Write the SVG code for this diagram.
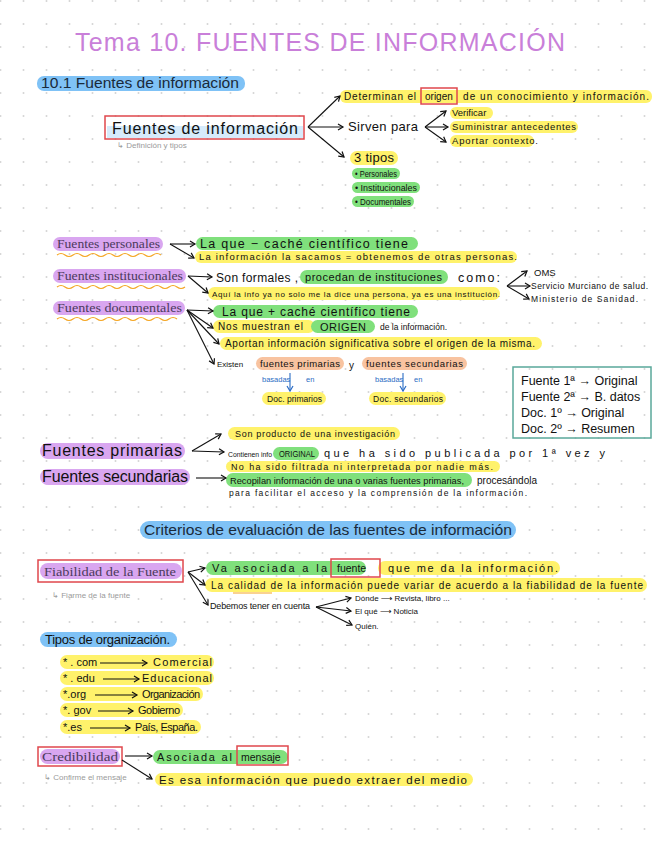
<svg xmlns="http://www.w3.org/2000/svg" width="656" height="848" viewBox="0 0 656 848">
<defs>
<pattern id="grid" x="-11" y="-11" width="23" height="23" patternUnits="userSpaceOnUse"><circle cx="11.5" cy="12" r="1" fill="#d4d4d4"/></pattern>
<marker id="ah" markerWidth="8" markerHeight="8" refX="6" refY="4" orient="auto" markerUnits="userSpaceOnUse"><path d="M1,1 L6,4 L1,7" fill="none" stroke="#111" stroke-width="1.2"/></marker>
<marker id="ahb" markerWidth="8" markerHeight="8" refX="6" refY="4" orient="auto" markerUnits="userSpaceOnUse"><path d="M1,1 L6,4 L1,7" fill="none" stroke="#2b6cc4" stroke-width="1.2"/></marker>
<style>
.hw{font-family:"Liberation Sans","DejaVu Sans",sans-serif;fill:#111}
.sf{font-family:"Liberation Serif","DejaVu Serif",serif;fill:#4b3a5c}
.gr{font-family:"Liberation Sans",sans-serif;fill:#9a9a9a;font-size:8px}
.bl{font-family:"Liberation Sans",sans-serif;fill:#2b6cc4;font-size:7.5px}
.y{fill:#fff26b}.g{fill:#80e07c}.p{fill:#d9a6f0}.b{fill:#7fc2f6}.o{fill:#f8c3a0}
.rb{fill:none;stroke:#e0474c;stroke-width:1.5}
.wave{fill:none;stroke:#f5a623;stroke-width:1.2}
.c line{stroke:#111;stroke-width:1.1;fill:none}
.c line.blue{stroke:#2b6cc4}
</style>
</defs>
<rect width="656" height="848" fill="#fff"/>
<rect width="656" height="848" fill="url(#grid)"/>

<text x="75" y="51" font-family="Liberation Sans,sans-serif" font-size="25" fill="#c97fd9" textLength="490" lengthAdjust="spacing">Tema 10. FUENTES DE INFORMACIÓN</text>

<g id="h1"><rect class="b" x="37" y="76" width="208" height="15" rx="7"/><text x="41" y="88" font-family="Liberation Sans,sans-serif" font-size="14" fill="#1a2a3a" textLength="198" lengthAdjust="spacingAndGlyphs">10.1 Fuentes de información</text></g>

<g id="fuentes-info">
<rect x="107" y="126" width="196" height="12" fill="#d6ebfb"/>
<rect class="rb" x="105" y="116" width="199" height="23"/>
<text class="hw" x="112" y="134" font-size="16" textLength="186" lengthAdjust="spacing">Fuentes de información</text>
<text class="gr" x="117" y="148">↳ Definición y tipos</text>
</g>

<g id="determinan">
<rect class="y" x="340" y="90" width="312" height="13" rx="6"/>
<text class="hw" x="344" y="100" font-size="10" textLength="72" lengthAdjust="spacing">Determinan el</text>
<rect class="rb" x="421" y="88" width="36" height="16"/>
<text class="hw" x="425" y="100" font-size="10">origen</text>
<text class="hw" x="463" y="100" font-size="10" textLength="186" lengthAdjust="spacing">de un conocimiento y información.</text>
</g>
<g id="sirven"><text class="hw" x="348" y="131" font-size="13" textLength="70" lengthAdjust="spacing">Sirven para</text></g>
<g id="verificar"><rect class="y" x="450" y="107" width="43" height="12" rx="6"/><text class="hw" x="452" y="116" font-size="9.5">Verificar</text></g>
<g id="suministrar"><rect class="y" x="450" y="121" width="128" height="12" rx="6"/><text class="hw" x="452" y="130" font-size="9.5" textLength="124" lengthAdjust="spacing">Suministrar antecedentes</text></g>
<g id="aportar"><rect class="y" x="450" y="135" width="84" height="12" rx="6"/><text class="hw" x="452" y="144" font-size="9.5" textLength="86" lengthAdjust="spacing">Aportar contexto.</text></g>
<g id="tipos3"><rect class="y" x="350" y="151" width="48" height="14" rx="7"/><text class="hw" x="354" y="162" font-size="13" textLength="40" lengthAdjust="spacing">3 tipos</text></g>
<g id="personales"><rect class="g" x="352" y="168" width="48" height="11" rx="5.5"/><text class="hw" x="355" y="177" font-size="9" textLength="42" lengthAdjust="spacingAndGlyphs">• Personales</text></g>
<g id="institucionales"><rect class="g" x="352" y="182" width="68" height="11" rx="5.5"/><text class="hw" x="355" y="191" font-size="9" textLength="62" lengthAdjust="spacingAndGlyphs">• Institucionales</text></g>
<g id="documentales"><rect class="g" x="352" y="196" width="62" height="11" rx="5.5"/><text class="hw" x="355" y="205" font-size="9" textLength="56" lengthAdjust="spacingAndGlyphs">• Documentales</text></g>

<g id="f-personales"><rect class="p" x="53" y="237" width="110" height="14" rx="7"/><text class="sf" x="57" y="248" font-size="12.5" textLength="103" lengthAdjust="spacingAndGlyphs">Fuentes personales</text>
<path class="wave" d="M57,255 q4,-3 8,0 t8,0 t8,0 t8,0 t8,0 t8,0 t8,0 t8,0 t8,0 t8,0 t8,0 t8,0 t8,0"/></g>
<g id="f-inst"><rect class="p" x="53" y="269" width="133" height="14" rx="7"/><text class="sf" x="57" y="280" font-size="12.5" textLength="126" lengthAdjust="spacingAndGlyphs">Fuentes institucionales</text>
<path class="wave" d="M57,287 q4,-3 8,0 t8,0 t8,0 t8,0 t8,0 t8,0 t8,0 t8,0 t8,0 t8,0 t8,0 t8,0 t8,0 t8,0 t8,0 t8,0"/></g>
<g id="f-doc"><rect class="p" x="53" y="301" width="132" height="14" rx="7"/><text class="sf" x="57" y="312" font-size="12.5" textLength="125" lengthAdjust="spacingAndGlyphs">Fuentes documentales</text>
<path class="wave" d="M57,319 q4,-3 8,0 t8,0 t8,0 t8,0 t8,0 t8,0 t8,0 t8,0 t8,0 t8,0 t8,0 t8,0 t8,0 t8,0 t8,0"/></g>

<g id="p1"><rect class="g" x="196" y="237" width="222" height="13" rx="6.5"/><text class="hw" x="200" y="247.5" font-size="12.5" textLength="208" lengthAdjust="spacing">La que − caché científico tiene</text></g>
<g id="p2"><rect class="y" x="195" y="251" width="322" height="12" rx="6"/><text class="hw" x="199" y="260" font-size="9.5" textLength="318" lengthAdjust="spacing">La información la sacamos = obtenemos de otras personas.</text></g>
<g id="i1"><rect class="g" x="300" y="270" width="148" height="14" rx="7"/>
<text class="hw" x="216" y="282" font-size="12" textLength="82" lengthAdjust="spacing">Son formales ,</text>
<text class="hw" x="305" y="281" font-size="11" textLength="137" lengthAdjust="spacing">procedan de instituciones</text>
<text class="hw" x="458" y="282" font-size="12.5" textLength="42" lengthAdjust="spacing">como:</text></g>
<g id="i2"><rect class="y" x="208" y="287" width="292" height="13" rx="6.5"/><text class="hw" x="212" y="297" font-size="8" textLength="288" lengthAdjust="spacing">Aquí la info ya no solo me la dice una persona, ya es una institución.</text></g>
<g id="oms"><text class="hw" x="534" y="276" font-size="9.5">OMS</text>
<text class="hw" x="531" y="289" font-size="8.5" textLength="117" lengthAdjust="spacing">Servicio Murciano de salud.</text>
<text class="hw" x="531" y="302" font-size="8.5" textLength="107" lengthAdjust="spacing">Ministerio de Sanidad.</text></g>
<g id="d1"><rect class="g" x="213" y="305" width="205" height="13" rx="6.5"/><text class="hw" x="222" y="315.5" font-size="12" textLength="188" lengthAdjust="spacing">La que + caché científico tiene</text></g>
<g id="d2"><rect class="y" x="213" y="320" width="102" height="13" rx="6.5"/><rect class="g" x="311" y="320" width="64" height="13" rx="6.5"/>
<text class="hw" x="218" y="330" font-size="10" textLength="85" lengthAdjust="spacing">Nos muestran el</text>
<text class="hw" x="320" y="330.5" font-size="11" textLength="46" lengthAdjust="spacing">ORIGEN</text>
<text class="hw" x="380" y="330" font-size="9" textLength="67" lengthAdjust="spacingAndGlyphs">de la información.</text></g>
<g id="d3"><rect class="y" x="220" y="337" width="322" height="13" rx="6.5"/><text class="hw" x="225" y="347" font-size="10" textLength="310" lengthAdjust="spacing">Aportan información significativa sobre el origen de la misma.</text></g>
<g id="d4"><text class="hw" x="217" y="367" font-size="8">Existen</text>
<rect class="o" x="256" y="357" width="88" height="13" rx="6.5"/><text class="hw" x="260" y="367" font-size="9.5" textLength="80" lengthAdjust="spacing">fuentes primarias</text>
<text class="hw" x="349" y="369" font-size="10">y</text>
<rect class="o" x="362" y="357" width="105" height="13" rx="6.5"/><text class="hw" x="366" y="367" font-size="9.5" textLength="97" lengthAdjust="spacing">fuentes secundarias</text></g>
<g id="basadas1"><text class="bl" x="262" y="382">basadas</text><text class="bl" x="306" y="382">en</text></g>
<g id="basadas2"><text class="bl" x="375" y="382">basadas</text><text class="bl" x="414" y="382">en</text></g>
<g id="docprim"><rect class="y" x="262" y="392" width="64" height="13" rx="6.5"/><text class="hw" x="267" y="402" font-size="8.5" textLength="55" lengthAdjust="spacing">Doc. primarios</text></g>
<g id="docsec"><rect class="y" x="369" y="392" width="77" height="13" rx="6.5"/><text class="hw" x="373" y="402" font-size="8.5" textLength="70" lengthAdjust="spacing">Doc. secundarios</text></g>

<g id="resumen-box"><rect x="513" y="367" width="138" height="71" fill="none" stroke="#5aa89a" stroke-width="1.5"/>
<text class="hw" x="521" y="385" font-size="12.5">Fuente 1ª → Original</text>
<text class="hw" x="521" y="401" font-size="12.5">Fuente 2ª → B. datos</text>
<text class="hw" x="521" y="417" font-size="12.5">Doc. 1º  → Original</text>
<text class="hw" x="521" y="433" font-size="12.5">Doc. 2º  → Resumen</text></g>

<g id="f-prim"><rect class="p" x="40" y="443" width="145" height="16" rx="8"/><text class="hw" x="42" y="456" font-size="16" textLength="140" lengthAdjust="spacing">Fuentes primarias</text></g>
<g id="f-sec"><rect class="p" x="40" y="469" width="150" height="16" rx="8"/><text class="hw" x="42" y="482" font-size="16" textLength="146" lengthAdjust="spacing">Fuentes secundarias</text></g>
<g id="fp1"><rect class="y" x="228" y="427" width="172" height="13" rx="6.5"/><text class="hw" x="235" y="437" font-size="9" textLength="160" lengthAdjust="spacing">Son producto de una investigación</text></g>
<g id="fp2"><rect class="g" x="273" y="447" width="46" height="13" rx="6.5"/>
<text class="hw" x="228" y="457" font-size="7.5" textLength="44" lengthAdjust="spacingAndGlyphs">Contienen info</text>
<text class="hw" x="279" y="457" font-size="8.5" textLength="36" lengthAdjust="spacingAndGlyphs">ORIGINAL</text>
<text class="hw" x="324" y="457" font-size="11" textLength="281" lengthAdjust="spacing">que ha sido publicada por 1ª vez y</text>
<rect class="y" x="226" y="461" width="274" height="11" rx="5.5"/>
<text class="hw" x="231" y="470" font-size="9" textLength="262" lengthAdjust="spacing">No ha sido filtrada ni interpretada por nadie más.</text></g>
<g id="fs1"><rect class="g" x="226" y="473" width="246" height="14" rx="7"/>
<text class="hw" x="230" y="484" font-size="9.5" textLength="234" lengthAdjust="spacingAndGlyphs">Recopilan información de una o varias fuentes primarias,</text>
<text class="hw" x="477" y="484" font-size="10" textLength="60" lengthAdjust="spacing">procesándola</text>
<text class="hw" x="229" y="496" font-size="8.5" textLength="298" lengthAdjust="spacing">para facilitar el acceso y la comprensión de la información.</text></g>

<g id="h2"><rect class="b" x="140" y="521" width="376" height="18" rx="9"/><text x="144" y="535" font-family="Liberation Sans,sans-serif" font-size="15" fill="#1a2a3a" textLength="368" lengthAdjust="spacingAndGlyphs">Criterios de evaluación de las fuentes de información</text></g>

<g id="fiabilidad"><rect class="p" x="40" y="563" width="142" height="16" rx="8"/><rect class="rb" x="38" y="560" width="145" height="22"/>
<text class="sf" x="44" y="576" font-size="13" textLength="132" lengthAdjust="spacingAndGlyphs">Fiabilidad de la Fuente</text>
<text class="gr" x="52" y="598" font-size="8.5">↳ Fiarme de la fuente</text></g>
<g id="fb1"><rect class="g" x="206" y="561" width="160" height="14" rx="7"/><rect class="y" x="378" y="561" width="182" height="14" rx="7"/>
<text class="hw" x="212" y="572" font-size="11" textLength="115" lengthAdjust="spacing">Va asociada a la</text>
<rect class="rb" x="331" y="559" width="49" height="18"/>
<text class="hw" x="337" y="572" font-size="10.5">fuente</text>
<text class="hw" x="388" y="572" font-size="11" textLength="170" lengthAdjust="spacing">que me da la información.</text></g>
<g id="fb2"><rect class="y" x="205" y="578" width="442" height="14" rx="7"/>
<text class="hw" x="211" y="589" font-size="10" textLength="432" lengthAdjust="spacing">La calidad de la información puede variar de acuerdo a la fiabilidad de la fuente</text>
<line x1="233" y1="593" x2="272" y2="593" stroke="#f5a623" stroke-width="1.2"/></g>
<g id="fb3"><text class="hw" x="210" y="609" font-size="9" textLength="100" lengthAdjust="spacing">Debemos tener en cuenta</text>
<text class="hw" x="355" y="601" font-size="8">Dónde ⟶ Revista, libro ...</text>
<text class="hw" x="355" y="614" font-size="8">El qué ⟶ Noticia</text>
<text class="hw" x="355" y="629" font-size="8">Quién.</text></g>

<g id="tipos-org"><rect class="b" x="40" y="632" width="137" height="15" rx="7.5"/><text class="hw" x="45" y="644" font-size="13" textLength="125" lengthAdjust="spacing">Tipos de organización.</text></g>
<g id="org">
<rect class="y" x="60" y="655" width="154" height="14" rx="7"/><text class="hw" x="63" y="666" font-size="11">* . com</text><text class="hw" x="153" y="666" font-size="11" textLength="59" lengthAdjust="spacing">Comercial</text>
<rect class="y" x="60" y="671" width="154" height="14" rx="7"/><text class="hw" x="63" y="682" font-size="11">* . edu</text><text class="hw" x="142" y="682" font-size="11" textLength="70" lengthAdjust="spacing">Educacional</text>
<rect class="y" x="60" y="687" width="143" height="14" rx="7"/><text class="hw" x="63" y="698" font-size="11">*.org</text><text class="hw" x="142" y="698" font-size="11" textLength="58" lengthAdjust="spacing">Organización</text>
<rect class="y" x="60" y="703" width="123" height="14" rx="7"/><text class="hw" x="63" y="714" font-size="11">*. gov</text><text class="hw" x="138" y="714" font-size="11" textLength="42" lengthAdjust="spacing">Gobierno</text>
<rect class="y" x="60" y="720" width="141" height="14" rx="7"/><text class="hw" x="63" y="731" font-size="11">*.es</text><text class="hw" x="135" y="731" font-size="11" textLength="63" lengthAdjust="spacing">País, España.</text>
</g>

<g id="credibilidad"><rect class="p" x="40" y="749" width="80" height="15" rx="7.5"/><rect class="rb" x="38" y="747" width="84" height="19"/>
<text class="sf" x="42" y="761" font-size="13" textLength="76" lengthAdjust="spacingAndGlyphs">Credibilidad</text>
<text class="gr" x="44" y="780" font-size="7">↳ Confirme el mensaje</text></g>
<g id="cr1"><rect class="g" x="153" y="750" width="135" height="14" rx="7"/>
<text class="hw" x="157" y="761" font-size="11" textLength="75" lengthAdjust="spacing">Asociada al</text>
<rect class="rb" x="237" y="746" width="51" height="19"/>
<text class="hw" x="241" y="761" font-size="10.5">mensaje</text></g>
<g id="cr2"><rect class="y" x="155" y="773" width="318" height="13" rx="6.5"/><text class="hw" x="159" y="783.5" font-size="11.5" textLength="308" lengthAdjust="spacing">Es esa información que puedo extraer del medio</text></g>

<g id="connectors" class="c">
<line x1="308" y1="127" x2="340" y2="96" marker-end="url(#ah)"/>
<line x1="308" y1="127" x2="343" y2="127" marker-end="url(#ah)"/>
<line x1="308" y1="127" x2="344" y2="157" marker-end="url(#ah)"/>
<line x1="425" y1="127" x2="446" y2="111" marker-end="url(#ah)"/>
<line x1="425" y1="127" x2="448" y2="127" marker-end="url(#ah)"/>
<line x1="425" y1="127" x2="446" y2="142" marker-end="url(#ah)"/>
<line x1="170" y1="244" x2="195" y2="244" marker-end="url(#ah)"/>
<line x1="170" y1="244" x2="194" y2="258" marker-end="url(#ah)"/>
<line x1="188" y1="276" x2="212" y2="277" marker-end="url(#ah)"/>
<line x1="188" y1="276" x2="208" y2="293" marker-end="url(#ah)"/>
<line x1="507" y1="286" x2="527" y2="271" marker-end="url(#ah)"/>
<line x1="507" y1="286" x2="530" y2="286" marker-end="url(#ah)"/>
<line x1="507" y1="286" x2="529" y2="299" marker-end="url(#ah)"/>
<line x1="187" y1="310" x2="213" y2="311" marker-end="url(#ah)"/>
<line x1="187" y1="310" x2="213" y2="328" marker-end="url(#ah)"/>
<line x1="187" y1="310" x2="219" y2="344" marker-end="url(#ah)"/>
<line x1="187" y1="310" x2="214" y2="364" marker-end="url(#ah)"/>
<line class="blue" x1="290" y1="373" x2="290" y2="391" marker-end="url(#ahb)"/>
<line class="blue" x1="403" y1="373" x2="403" y2="391" marker-end="url(#ahb)"/>
<line x1="192" y1="451" x2="221" y2="434" marker-end="url(#ah)"/>
<line x1="192" y1="451" x2="224" y2="452" marker-end="url(#ah)"/>
<line x1="196" y1="478" x2="226" y2="478" marker-end="url(#ah)"/>
<line x1="188" y1="572" x2="205" y2="568" marker-end="url(#ah)"/>
<line x1="188" y1="572" x2="205" y2="585" marker-end="url(#ah)"/>
<line x1="188" y1="572" x2="208" y2="605" marker-end="url(#ah)"/>
<line x1="316" y1="607" x2="351" y2="598" marker-end="url(#ah)"/>
<line x1="316" y1="607" x2="351" y2="611" marker-end="url(#ah)"/>
<line x1="316" y1="607" x2="352" y2="625" marker-end="url(#ah)"/>
<line x1="100" y1="663" x2="147" y2="663" marker-end="url(#ah)"/>
<line x1="103" y1="679" x2="139" y2="679" marker-end="url(#ah)"/>
<line x1="95" y1="695" x2="137" y2="695" marker-end="url(#ah)"/>
<line x1="98" y1="711" x2="133" y2="711" marker-end="url(#ah)"/>
<line x1="90" y1="728" x2="130" y2="728" marker-end="url(#ah)"/>
<line x1="125" y1="756" x2="152" y2="756" marker-end="url(#ah)"/>
<line x1="122" y1="760" x2="152" y2="779" marker-end="url(#ah)"/>
</g>
</svg>
